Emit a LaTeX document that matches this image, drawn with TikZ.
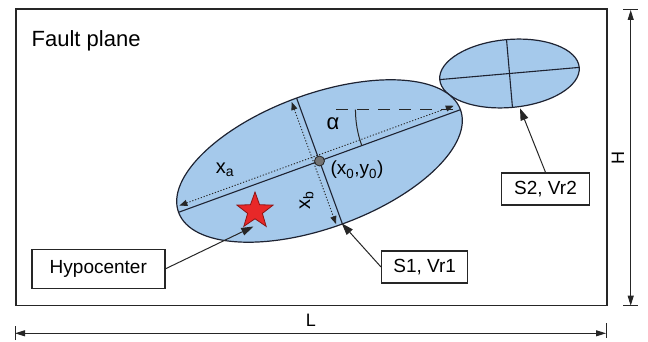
\documentclass[tikz,border=0pt]{standalone}
\usepackage{fontspec}
\setmainfont{Liberation Sans}
\usetikzlibrary{arrows.meta,shapes.geometric,calc}
\definecolor{ellfill}{RGB}{165,201,235}
\definecolor{ellline}{RGB}{30,35,50}
\definecolor{starred}{RGB}{232,40,40}
\definecolor{stardark}{RGB}{140,20,20}
\begin{document}
\begin{tikzpicture}[x=1pt,y=1pt,
  lbl/.style={font=\fontsize{19}{22}\selectfont, inner sep=0pt},
  box/.style={draw=black!85, line width=1.4pt, fill=white, inner sep=0pt, font=\fontsize{19}{22}\selectfont},
  pointer/.style={-{Triangle[length=12pt,width=8pt]}, line width=1pt, draw=black!85},
  dimarrow/.style={{Triangle[length=10pt,width=6pt]}-{Triangle[length=10pt,width=6pt]}, line width=0.9pt, draw=black!85},
  dimtick/.style={line width=1pt, draw=black!85},
  axisdim/.style={{Triangle[length=8pt,width=6pt]}-{Triangle[length=8pt,width=6pt]}, dash pattern=on 1.2pt off 1.8pt, line width=0.9pt, draw=black!85},
  ellshape/.style={fill=ellfill, draw=ellline, line width=1.2pt},
  axisline/.style={draw=ellline, line width=1.1pt}
]
\useasboundingbox (0,0) rectangle (648,341);
% fault plane
\node[draw=black!85, line width=1.5pt, minimum width=591pt, minimum height=296pt, inner sep=0pt, anchor=south west] (plane) at (15,35) {};
\node[anchor=base west, font=\fontsize{22}{26}\selectfont, inner sep=0pt] (title) at (31.5,294.5) {Fault plane};
% small ellipse
\begin{scope}[shift={(509.5,267.5)}, rotate=5]
  \draw[ellshape] (0,0) ellipse [x radius=70, y radius=34];
  \draw[axisline] (-70,0) coordinate (smL) -- (70,0) coordinate (smR);
  \draw[axisline] (0,-34) coordinate (smB) -- (0,34) coordinate (smT);
\end{scope}
% main ellipse
\begin{scope}[shift={(319.5,180)}, rotate=20]
  \draw[ellshape] (0,0) ellipse [x radius=150, y radius=67];
  \draw[axisline] (-150,0) coordinate (maL) -- (150,0) coordinate (maR);
  \draw[axisline] (0,-67) coordinate (miB) -- (0,67) coordinate (miT);
  \coordinate (xaL) at (-147,6);
  \coordinate (xaR) at (145,6);
  \coordinate (xbT) at (-6,65);
  \coordinate (xbB) at (-6,-65);
  \draw[axisdim] (xaL) -- (xaR);
  \draw[axisdim] (xbT) -- (xbB);
\end{scope}
% angle
\coordinate (dashstart) at ($(maR)+(-124,0)$);
\draw[draw=black!85, line width=1pt, dash pattern=on 12pt off 9pt] (dashstart) -- (maR);
\coordinate (arcstart) at ($(maR)+(-105,0)$);
\draw[draw=black!85, line width=1pt] (arcstart) arc[start angle=180, end angle=200, radius=105];
\node[font=\fontsize{22}{25}\selectfont, inner sep=0pt] (alpha) at (333,217) {α};
% centre
\node[circle, fill=black!55, draw=black!85, line width=0.8pt, minimum size=10pt, inner sep=0pt] (ctr) at (319.5,180) {};
\node[font=\fontsize{20}{23}\selectfont, inner sep=0pt] (xa) at (225,171) {x\textsubscript{a}};
\node[font=\fontsize{20}{23}\selectfont, inner sep=0pt, rotate=90] (xb) at (306.5,141) {x\textsubscript{b}};
\node[lbl] (x0y0) at (357,171) {(x\textsubscript{0},y\textsubscript{0})};
% star
\node[star, star points=5, star point ratio=2.45, minimum size=38pt, inner sep=0pt, fill=starred, draw=stardark, line width=0.8pt] (hypo) at (255,130) {};
% boxes
\node[box, minimum width=133pt, minimum height=39pt] (hbox) at (98.3,72.2) {Hypocenter};
\node[box, minimum width=86pt, minimum height=32pt] (s1box) at (424.7,74) {S1, Vr1};
\node[box, minimum width=87.5pt, minimum height=32pt] (s2box) at (545.5,152) {S2, Vr2};
\coordinate (hypotip) at (253.3,114.5);
\coordinate (s1tip) at (341.7,117.7);
\coordinate (s2tip) at (520,232.7);
\draw[pointer] (hbox.east) -- (hypotip);
\draw[pointer] (s1box.west) -- (s1tip);
\draw[pointer] (s2box.north) -- (s2tip);
% L dimension
\coordinate (Lleft) at (15,7.7);
\coordinate (Lright) at (606,7.7);
\draw[dimarrow] (Lleft) -- (Lright);
\draw[dimtick] (15,1) -- (15,15);
\draw[dimtick] (606,3.5) -- (606,18);
\node[font=\fontsize{18}{21}\selectfont, inner sep=0pt] (Llabel) at (311,21) {L};
% H dimension
\coordinate (Htop) at (630.7,331);
\coordinate (Hbot) at (630.7,35.3);
\draw[dimarrow] (Hbot) -- (Htop);
\draw[dimtick] (623,331) -- (638,331);
\draw[dimtick] (623,35.3) -- (638,35.3);
\node[font=\fontsize{18}{21}\selectfont, inner sep=0pt, rotate=90] (Hlabel) at (618,183) {H};
\end{tikzpicture}
\end{document}
